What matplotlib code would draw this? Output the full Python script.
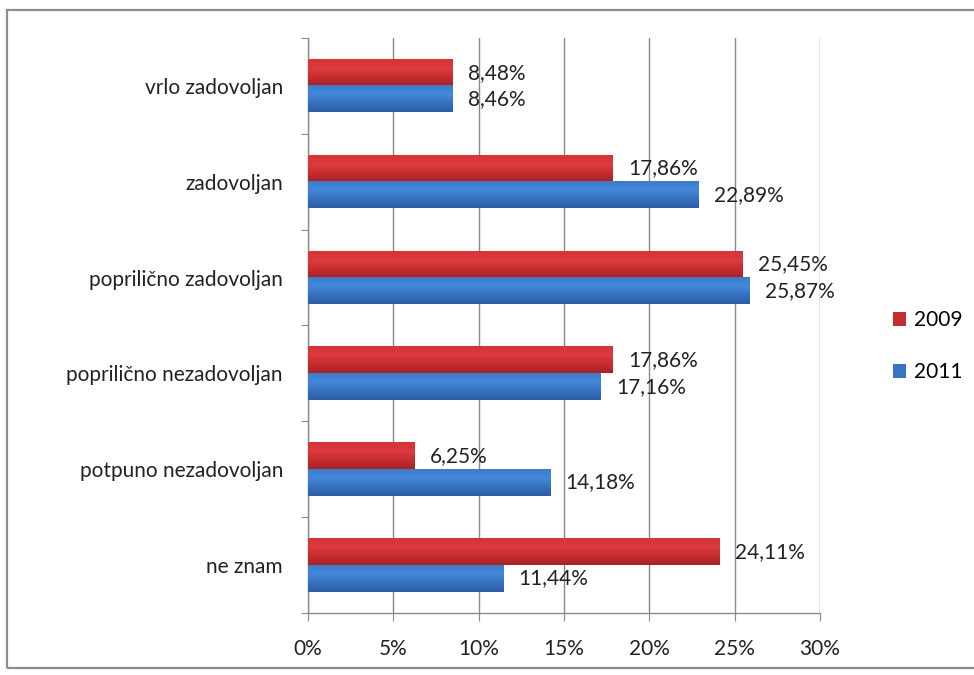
import matplotlib
matplotlib.use('Agg')
import matplotlib.pyplot as plt
import numpy as np
from matplotlib.patches import Patch, Rectangle
from matplotlib.colors import LinearSegmentedColormap

categories = ['vrlo zadovoljan', 'zadovoljan', 'poprilično zadovoljan',
              'poprilično nezadovoljan', 'potpuno nezadovoljan', 'ne znam']
vals_2009 = [8.48, 17.86, 25.45, 17.86, 6.25, 24.11]
vals_2011 = [8.46, 22.89, 25.87, 17.16, 14.18, 11.44]
series_names = ['2009', '2011']
xticks = [0, 5, 10, 15, 20, 25, 30]

plt.rcParams['font.family'] = ['Lato', 'DejaVu Sans']
FS = 15

fig = plt.figure(figsize=(9.74, 6.75), dpi=100)
ax = fig.add_axes([0.3162, 0.0919, 0.5257, 0.8518])

# outer chart frame
fig.patches.append(Rectangle((7/974, 7/675), 1.0, 658/675, transform=fig.transFigure,
                             fill=False, edgecolor='#8c8c8c', linewidth=1.6, zorder=0))

y = np.arange(len(categories))
h = 0.277
red_cmap = LinearSegmentedColormap.from_list('r', ['#a82226', '#c62c30', '#dc3c3d', '#d43436'])
blue_cmap = LinearSegmentedColormap.from_list('b', ['#2c5ea6', '#3570c0', '#4589d9', '#3c7bca'])

bars09 = ax.barh(y - h/2, vals_2009, height=h, color='#c62d31', zorder=3)
bars11 = ax.barh(y + h/2, vals_2011, height=h, color='#3873c4', zorder=3)

# gradient shading on the bars
grad = np.linspace(0, 1, 64).reshape(-1, 1)
for bars, cm in ((bars09, red_cmap), (bars11, blue_cmap)):
    for b in bars:
        x0, y0 = b.get_x(), b.get_y()
        w, hh = b.get_width(), b.get_height()
        ax.imshow(grad, cmap=cm, aspect='auto', extent=(x0, x0 + w, y0, y0 + hh),
                  origin='upper', zorder=3.5, interpolation='bilinear')

ax.set_xlim(0, 30)
ax.set_ylim(len(categories) - 0.5, -0.5)

for bars, vals in ((bars09, vals_2009), (bars11, vals_2011)):
    for b, v in zip(bars, vals):
        ax.annotate(f'{v:.2f}%'.replace('.', ','), (v, b.get_y() + b.get_height()/2),
                    xytext=(11, 0), textcoords='offset points', ha='left', va='center',
                    fontsize=FS, color='#222222', zorder=5)

ax.set_xticks(xticks)
ax.set_xticklabels([f'{t}%' for t in xticks], fontsize=FS, color='#222222')
ax.xaxis.grid(True, color='#8a8a8a', linewidth=1.0, zorder=0)
ax.set_axisbelow(True)

ax.set_yticks(np.arange(len(categories) + 1) - 0.5, minor=False)
ax.set_yticklabels([])
ax.set_yticks(y, minor=True)
ax.set_yticklabels(categories, minor=True, fontsize=FS, color='#222222')
ax.tick_params(axis='y', which='minor', length=0, pad=18)
ax.tick_params(axis='y', which='major', length=5, color='#8a8a8a', direction='out')
ax.tick_params(axis='x', length=6, color='#8a8a8a', pad=13)

for s in ('top', 'right'):
    ax.spines[s].set_visible(False)
for s in ('left', 'bottom'):
    ax.spines[s].set_color('#8a8a8a')
    ax.spines[s].set_linewidth(1.0)

handles = [Patch(facecolor='#c62d31', label=series_names[0]),
           Patch(facecolor='#3873c4', label=series_names[1])]
fig.legend(handles=handles, loc='center left', bbox_to_anchor=(0.908, 0.487),
           frameon=False, fontsize=FS, handlelength=0.65, handleheight=0.65,
           handletextpad=0.35, labelspacing=1.55, borderaxespad=0)

fig.savefig('out.png', dpi=100)
